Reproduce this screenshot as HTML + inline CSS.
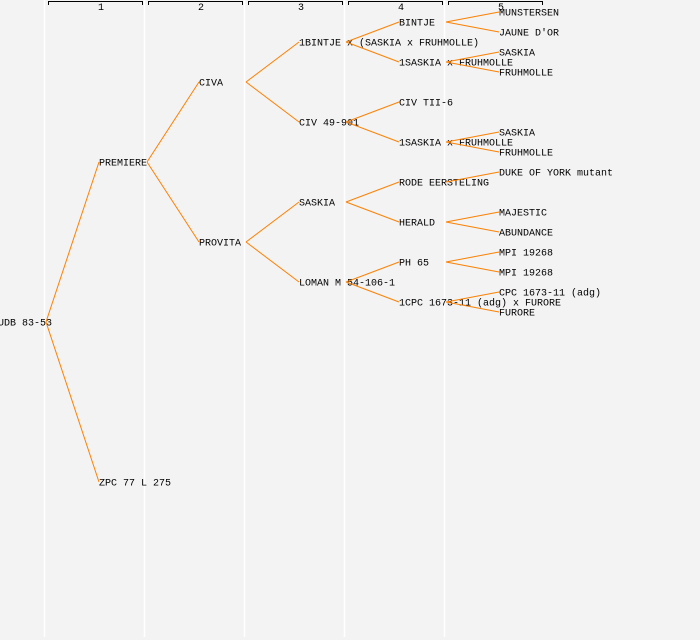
<!DOCTYPE html>
<html><head><meta charset="utf-8"><style>
html,body{margin:0;padding:0;background:#f3f3f3;}
svg{display:block;}
text{font-family:"Liberation Mono","DejaVu Sans Mono",monospace;font-size:10px;fill:#000;}
</style></head><body>
<svg width="700" height="640" xmlns="http://www.w3.org/2000/svg">
<rect width="700" height="640" fill="#f3f3f3"/>
<g stroke="#fff" stroke-width="1.5">
<line x1="44.5" y1="0" x2="44.5" y2="637"/>
<line x1="144.5" y1="0" x2="144.5" y2="637"/>
<line x1="244.5" y1="0" x2="244.5" y2="637"/>
<line x1="344.5" y1="0" x2="344.5" y2="637"/>
<line x1="444.5" y1="0" x2="444.5" y2="637"/>
</g>
<g stroke="#000" stroke-width="1" fill="none">
<path d="M48.5 5V1.5H142.5V5"/>
<path d="M148.5 5V1.5H242.5V5"/>
<path d="M248.5 5V1.5H342.5V5"/>
<path d="M348.5 5V1.5H442.5V5"/>
<path d="M448.5 5V1.5H542.5V5"/>
</g>
<g style="font-size:8px" text-anchor="middle">
<text x="101" y="10">1</text><text x="201" y="10">2</text><text x="301" y="10">3</text><text x="401" y="10">4</text><text x="501" y="10">5</text>
</g>
<g transform="translate(0,2)" dominant-baseline="central">
<text x="-2" y="322">UDB 83-53</text>
<text x="99" y="162">PREMIERE</text>
<text x="99" y="482">ZPC 77 L 275</text>
<text x="199" y="82">CIVA</text>
<text x="199" y="242">PROVITA</text>
<text x="299" y="42">1BINTJE x (SASKIA x FRUHMOLLE)</text>
<text x="299" y="122">CIV 49-901</text>
<text x="299" y="202">SASKIA</text>
<text x="299" y="282">LOMAN M 54-106-1</text>
<text x="399" y="22">BINTJE</text>
<text x="399" y="62">1SASKIA x FRUHMOLLE</text>
<text x="399" y="102">CIV TII-6</text>
<text x="399" y="142">1SASKIA x FRUHMOLLE</text>
<text x="399" y="182">RODE EERSTELING</text>
<text x="399" y="222">HERALD</text>
<text x="399" y="262">PH 65</text>
<text x="399" y="302">1CPC 1673-11 (adg) x FURORE</text>
<text x="499" y="12">MUNSTERSEN</text>
<text x="499" y="32">JAUNE D'OR</text>
<text x="499" y="52">SASKIA</text>
<text x="499" y="72">FRUHMOLLE</text>
<text x="499" y="132">SASKIA</text>
<text x="499" y="152">FRUHMOLLE</text>
<text x="499" y="172">DUKE OF YORK mutant</text>
<text x="499" y="212">MAJESTIC</text>
<text x="499" y="232">ABUNDANCE</text>
<text x="499" y="252">MPI 19268</text>
<text x="499" y="272">MPI 19268</text>
<text x="499" y="292">CPC 1673-11 (adg)</text>
<text x="499" y="312">FURORE</text>
</g>
<g stroke="#ff8000" stroke-width="1" fill="none">
<path d="M46 322L99 162M46 322L99 482"/>
<path d="M147 162L199 82M147 162L199 242"/>
<path d="M246 82L299 42M246 82L299 122M246 242L299 202M246 242L299 282"/>
<path d="M346 42L399 22M346 42L399 62M346 122L399 102M346 122L399 142M346 202L399 182M346 202L399 222M346 282L399 262M346 282L399 302"/>
<path d="M446 22L499 12M446 22L499 32M446 62L499 52M446 62L499 72M446 142L499 132M446 142L499 152M446 182L499 172M446 222L499 212M446 222L499 232M446 262L499 252M446 262L499 272M446 302L499 292M446 302L499 312"/>
</g>
</svg>
</body></html>
